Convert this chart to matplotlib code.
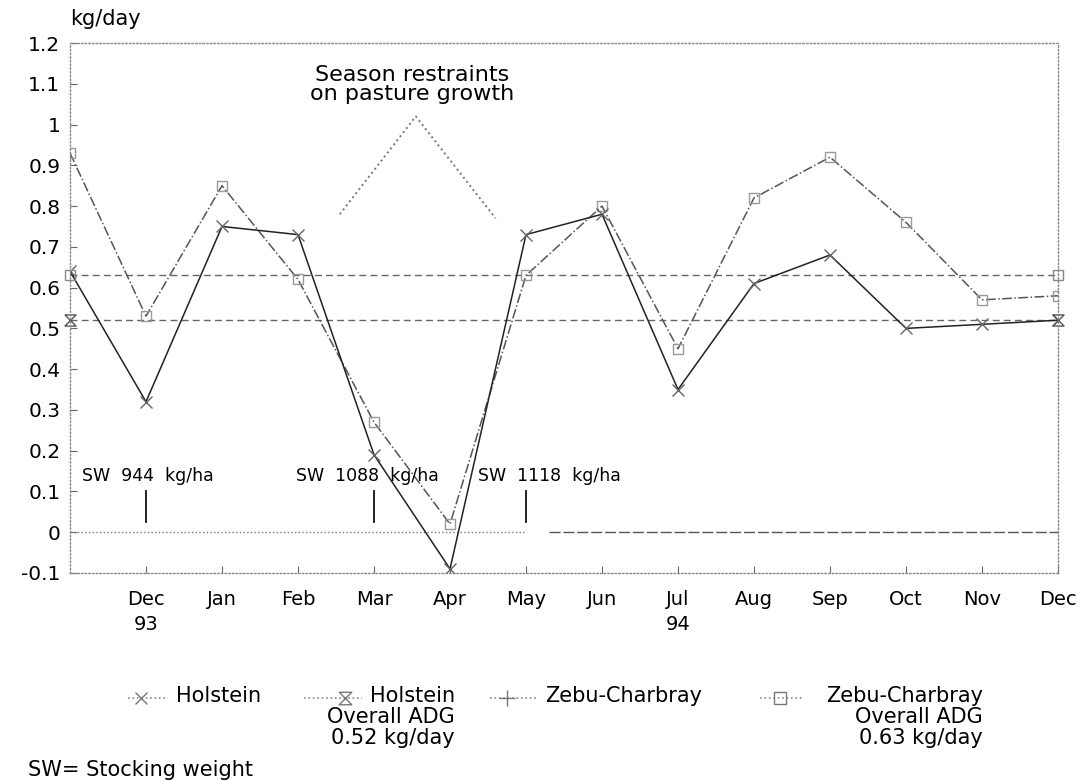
import matplotlib
matplotlib.use('Agg')
import matplotlib.pyplot as plt
from matplotlib.lines import Line2D

# months: 0 = Nov 93 ... 13 = Dec 94
months = list(range(14))
holstein = [0.64, 0.32, 0.75, 0.73, 0.19, -0.09, 0.73, 0.78, 0.35, 0.61, 0.68, 0.50, 0.51, 0.52]
zebu = [0.93, 0.53, 0.85, 0.62, 0.27, 0.02, 0.63, 0.80, 0.45, 0.82, 0.92, 0.76, 0.57, 0.58]
holstein_adg = 0.52
zebu_adg = 0.63

# season restraint curve
season_x = [3.55, 4.55, 5.6]
season_y = [0.78, 1.02, 0.77]

# stocking weight marks
sw_month = [1, 4, 6]
sw_labels = ['SW  944  kg/ha', 'SW  1088  kg/ha', 'SW  1118  kg/ha']
sw_text_x = [0.16, 2.98, 5.37]

tick_pos = list(range(1, 14))
tick_labels = ['Dec\n93', 'Jan', 'Feb', 'Mar', 'Apr', 'May', 'Jun', 'Jul\n94',
               'Aug', 'Sep', 'Oct', 'Nov', 'Dec']
y_ticks = [-0.1, 0, 0.1, 0.2, 0.3, 0.4, 0.5, 0.6, 0.7, 0.8, 0.9, 1.0, 1.1, 1.2]
y_labels = ['-0.1', '0', '0.1', '0.2', '0.3', '0.4', '0.5', '0.6', '0.7', '0.8',
            '0.9', '1', '1.1', '1.2']

legend_labels = ['Holstein', 'Holstein\nOverall ADG\n0.52 kg/day', 'Zebu-Charbray',
                 'Zebu-Charbray\nOverall ADG\n0.63 kg/day']

plt.rcParams['font.family'] = ['DejaVu Sans']

W, H = 1082, 780
fig = plt.figure(figsize=(W / 100, H / 100), dpi=100)
ax = fig.add_axes([70 / W, 1 - 573 / H, (1058 - 70) / W, (573 - 43) / H])

ax.set_xlim(0, 13)
ax.set_ylim(-0.1, 1.2)

# reference lines
ax.plot([0, 13], [zebu_adg, zebu_adg], color='#666666', lw=1.0, ls=(0, (5, 3)))
ax.plot([0, 13], [holstein_adg, holstein_adg], color='#666666', lw=1.0, ls=(0, (5, 3)))
ax.plot([0, 6.0], [0, 0], color='#777777', lw=1.0, ls=':')
ax.plot([6.3, 13], [0, 0], color='#555555', lw=1.0, ls=(0, (8, 2)))

# series
ax.plot(months, zebu, color='#555555', lw=1.1, ls='-.', marker='s', ms=7,
        mfc='none', mec='#999999', mew=1.0)
ax.plot(months, holstein, color='#222222', lw=1.1, marker='x', ms=8,
        mec='#666666', mew=1.0)
ax.plot(season_x, season_y, color='#777777', lw=1.4, ls=':')

# end markers of the ADG lines
hourglass = [(-1, 1), (1, 1), (-1, -1), (1, -1), (-1, 1)]
ax.plot([0, 13], [holstein_adg, holstein_adg], ls='none', marker=hourglass, ms=8,
        mfc='none', mec='#555555', clip_on=False)
ax.plot([0, 13], [zebu_adg, zebu_adg], ls='none', marker='s', ms=7,
        mfc='none', mec='#888888', clip_on=False)

# stocking weight annotations
for m, lab, tx in zip(sw_month, sw_labels, sw_text_x):
    ax.plot([m, m], [0.025, 0.10], color='#111111', lw=1.3)
    ax.text(tx, 0.137, lab, fontsize=12.5, va='center', ha='left')

ax.text(4.5, 1.098, 'Season restraints\non pasture growth', fontsize=16,
        ha='center', va='center', linespacing=0.9)

ax.annotate('kg/day', xy=(0, 1), xycoords='axes fraction', xytext=(0, 10),
            textcoords='offset points', fontsize=15, ha='left', va='bottom')

# axes styling
for s in ax.spines.values():
    s.set_color('#888888')
    s.set_linestyle(':')
    s.set_linewidth(1.0)
ax.set_xticks(tick_pos)
ax.set_xticklabels(tick_labels, fontsize=14, linespacing=1.45)
ax.set_yticks(y_ticks)
ax.set_yticklabels(y_labels, fontsize=14.5)
ax.tick_params(axis='both', direction='in', length=5, color='#666666')
ax.tick_params(axis='x', pad=12)
ax.tick_params(axis='y', pad=7)

# legend, drawn by hand: marker x, dotted span, text x, text alignment
leg_markers = ['x', hourglass, '+', 's']
leg_mx = [141, 345, 507, 780]
leg_span = [(128, 168), (304, 362), (490, 538), (760, 802)]
leg_tx = [176, 455, 545, 983]
leg_ha = ['left', 'right', 'left', 'right']
row_y = 698
for mk, mx, (a, b), tx, ha, lab in zip(leg_markers, leg_mx, leg_span, leg_tx, leg_ha,
                                       legend_labels):
    fig.add_artist(Line2D([a / W, b / W], [1 - row_y / H, 1 - row_y / H],
                          transform=fig.transFigure, color='#888888', ls=':', lw=1.2))
    fig.add_artist(Line2D([mx / W], [1 - row_y / H], transform=fig.transFigure,
                          marker=mk, ms=9 if mk != '+' else 11, mfc='none',
                          mec='#777777', mew=1.0, ls='none'))
    fig.text(tx / W, 1 - (row_y - 12) / H, lab, fontsize=15, ha=ha, va='top',
             multialignment='right', linespacing=1.05)

fig.text(28 / W, 1 - 770 / H, 'SW= Stocking weight', fontsize=15,
         ha='left', va='center')

fig.savefig('out.png', dpi=100)
